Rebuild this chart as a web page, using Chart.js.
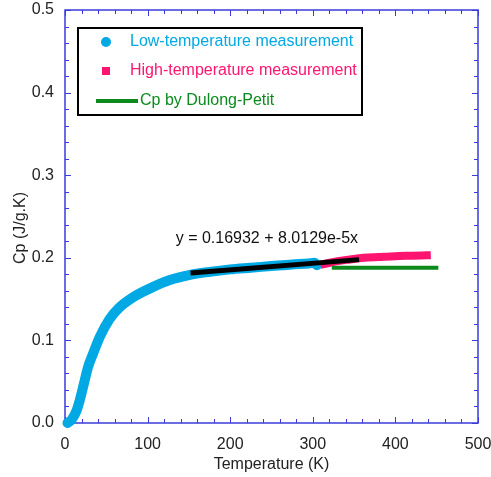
<!DOCTYPE html>
<html>
<head>
<meta charset="utf-8">
<script src="https://cdn.jsdelivr.net/npm/chart.js@4.4.1/dist/chart.umd.min.js"></script>
<style>
  html, body { margin: 0; padding: 0; background: #fff; overflow: hidden; }
  #wrap { width: 491px; height: 477px; }
</style>
</head>
<body>
<div id="wrap"><canvas id="cp"></canvas></div>
<script>
// values
const lowT  = [3, 8, 14, 18, 22, 28, 34, 42, 54, 66, 82, 103, 127, 150, 175, 200, 225, 250, 275, 295, 302, 305];
const lowCp = [0.000, 0.004, 0.015, 0.028, 0.044, 0.068, 0.084, 0.104, 0.126, 0.140, 0.152, 0.163, 0.173, 0.179, 0.183, 0.186, 0.188, 0.190, 0.192, 0.193, 0.194, 0.191];

const highT  = [314, 330, 345, 361, 380, 400, 420, 438];
const highCp = [0.1925, 0.196, 0.198, 0.200, 0.201, 0.202, 0.2025, 0.203];

const dulongT  = [323, 452];
const dulongCp = [0.188, 0.188];

const fitT  = [152, 356];
const fitCp = [0.1815, 0.1978];

const xTicks = [0, 100, 200, 300, 400, 500];
const yTicks = [0.0, 0.1, 0.2, 0.3, 0.4, 0.5];

const fitLabel = 'y = 0.16932 + 8.0129e-5x';

const FONT = '"Liberation Sans", Arial, Helvetica, sans-serif';
const AXIS_BLUE = '#3b3bdc';

function pts(xs, ys) {
    return xs.map((x, i) => ({ x: x, y: ys[i] }));
}

// frame with inward ticks on all four sides
const framePlugin = {
    id: 'frame',
    beforeDatasetsDraw(chart) {
        const { ctx, chartArea: a, scales: { x, y } } = chart;
        ctx.save();
        ctx.strokeStyle = AXIS_BLUE;
        ctx.lineWidth = 1.5;
        ctx.strokeRect(a.left, a.top, a.right - a.left, a.bottom - a.top);
        ctx.lineWidth = 1;
        ctx.beginPath();
        for (let v = 0; v <= 500; v += 20) {
            const px = Math.round(x.getPixelForValue(v)) + 0.5;
            const len = v % 100 === 0 ? 6 : 4;
            ctx.moveTo(px, a.bottom); ctx.lineTo(px, a.bottom - len);
            ctx.moveTo(px, a.top); ctx.lineTo(px, a.top + len);
        }
        for (let i = 0; i <= 25; i++) {
            const py = Math.round(y.getPixelForValue(i * 0.02)) + 0.5;
            const len = i % 5 === 0 ? 6 : 4;
            ctx.moveTo(a.left, py); ctx.lineTo(a.left + len, py);
            ctx.moveTo(a.right, py); ctx.lineTo(a.right - len, py);
        }
        ctx.stroke();
        ctx.restore();
    }
};

// legend box, fit equation and y title
const extrasPlugin = {
    id: 'extras',
    afterDraw(chart) {
        const { ctx, scales: { x, y } } = chart;
        const ds = chart.data.datasets;
        ctx.save();

        // legend
        ctx.strokeStyle = '#000';
        ctx.lineWidth = 2;
        ctx.strokeRect(78, 28, 284, 87);
        ctx.font = '16px ' + FONT;
        ctx.textBaseline = 'middle';
        ctx.textAlign = 'left';

        ctx.fillStyle = ds[0].borderColor;
        ctx.beginPath();
        ctx.arc(106, 42, 5, 0, Math.PI * 2);
        ctx.fill();
        ctx.fillText(ds[0].label, 130, 42);

        ctx.fillStyle = ds[1].borderColor;
        ctx.fillRect(102, 67, 8, 8);
        ctx.fillText(ds[1].label, 130, 71);

        ctx.strokeStyle = ds[2].borderColor;
        ctx.lineWidth = 4;
        ctx.beginPath();
        ctx.moveTo(96, 101); ctx.lineTo(138, 101);
        ctx.stroke();
        ctx.fillStyle = ds[2].borderColor;
        ctx.fillText(ds[2].label, 140, 101);

        // fit equation
        ctx.fillStyle = '#111';
        ctx.textBaseline = 'alphabetic';
        ctx.fillText(fitLabel, x.getPixelForValue(134), y.getPixelForValue(0.218));

        // y axis title
        ctx.fillStyle = '#222';
        ctx.translate(21, 228);
        ctx.rotate(-Math.PI / 2);
        ctx.textAlign = 'center';
        ctx.textBaseline = 'middle';
        ctx.fillText('Cp (J/g.K)', 0, 0);
        ctx.restore();
    }
};

new Chart(document.getElementById('cp'), {
    type: 'scatter',
    data: {
        datasets: [
            {
                label: 'Low-temperature measurement',
                data: pts(lowT, lowCp),
                showLine: true,
                borderColor: '#00a8e4',
                backgroundColor: '#00a8e4',
                borderWidth: 10,
                borderCapStyle: 'round',
                borderJoinStyle: 'round',
                cubicInterpolationMode: 'monotone',
                pointRadius: 0,
                clip: false,
                order: 3
            },
            {
                label: 'High-temperature measurement',
                data: pts(highT, highCp),
                showLine: true,
                borderColor: '#ff1470',
                backgroundColor: '#ff1470',
                borderWidth: 8,
                borderCapStyle: 'square',
                cubicInterpolationMode: 'monotone',
                pointRadius: 0,
                clip: false,
                order: 2
            },
            {
                label: 'Cp by Dulong-Petit',
                data: pts(dulongT, dulongCp),
                showLine: true,
                borderColor: '#0c8a1e',
                borderWidth: 4,
                pointRadius: 0,
                clip: false,
                order: 1
            },
            {
                label: 'fit',
                data: pts(fitT, fitCp),
                showLine: true,
                borderColor: '#000',
                borderWidth: 5,
                pointRadius: 0,
                clip: false,
                order: 0
            }
        ]
    },
    options: {
        responsive: true,
        maintainAspectRatio: false,
        animation: false,
        layout: { padding: { top: 10, right: 13, left: 0, bottom: 0 } },
        plugins: {
            legend: { display: false },
            tooltip: { enabled: false }
        },
        scales: {
            x: {
                type: 'linear',
                min: 0,
                max: 500,
                border: { display: false },
                grid: { display: false, drawTicks: false },
                afterBuildTicks: s => { s.ticks = xTicks.map(v => ({ value: v })); },
                afterFit: s => { s.height = 54; s.paddingLeft = 0; s.paddingRight = 0; },
                ticks: {
                    padding: 12,
                    color: '#222',
                    font: { family: FONT, size: 16 }
                },
                title: {
                    display: true,
                    text: 'Temperature (K)',
                    color: '#222',
                    padding: { top: 0, bottom: 3 },
                    font: { family: FONT, size: 16 }
                }
            },
            y: {
                type: 'linear',
                min: 0,
                max: 0.5,
                border: { display: false },
                grid: { display: false, drawTicks: false },
                afterBuildTicks: s => { s.ticks = yTicks.map(v => ({ value: v })); },
                afterFit: s => { s.width = 65; s.paddingTop = 0; s.paddingBottom = 0; },
                ticks: {
                    padding: 11,
                    color: '#222',
                    font: { family: FONT, size: 16 },
                    callback: v => Number(v).toFixed(1)
                }
            }
        }
    },
    plugins: [framePlugin, extrasPlugin]
});
</script>
</body>
</html>
